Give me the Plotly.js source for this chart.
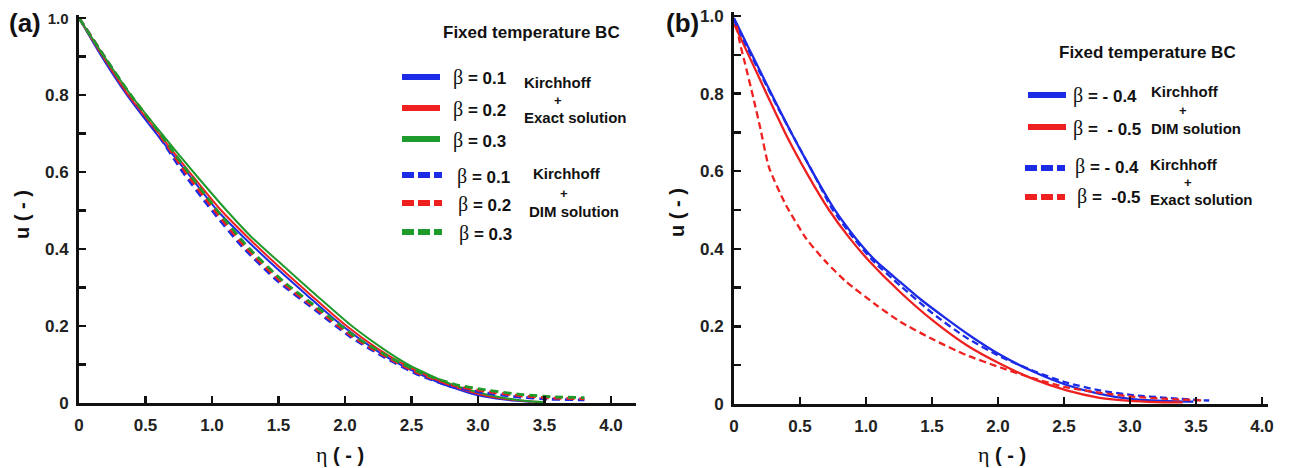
<!DOCTYPE html>
<html>
<head>
<meta charset="utf-8">
<script src="https://cdn.plot.ly/plotly-3.0.1.min.js"></script>
<style>html,body{margin:0;padding:0;background:#fff;}#chart{width:1290px;height:468px;}</style>
</head>
<body>
<div id="chart"></div>
<script>
// ---------------- Panel (a) data: Kirchhoff + Exact solution (solid) ----------------
const etaA_exact_b01 = [0, 0.17, 0.36, 0.58, 0.81, 1.04, 1.24, 1.47, 1.72, 1.97, 2.22, 2.43, 2.73, 3.0, 3.2, 3.4];
const uA_exact_b01   = [1, 0.9, 0.8, 0.7, 0.6, 0.5, 0.43, 0.355, 0.278, 0.203, 0.14, 0.097, 0.05, 0.02, 0.009, 0.003];
const etaA_exact_b02 = [0, 0.18, 0.37, 0.6, 0.83, 1.07, 1.27, 1.5, 1.75, 2.0, 2.25, 2.46, 2.76, 3.02, 3.2, 3.4, 3.5];
const uA_exact_b02   = [1, 0.9, 0.8, 0.7, 0.6, 0.5, 0.43, 0.355, 0.278, 0.203, 0.14, 0.097, 0.05, 0.022, 0.011, 0.004, 0.002];
const etaA_exact_b03 = [0, 0.19, 0.39, 0.62, 0.86, 1.11, 1.3, 1.54, 1.79, 2.04, 2.29, 2.49, 2.79, 3.04, 3.2, 3.37, 3.5];
const uA_exact_b03   = [1, 0.9, 0.8, 0.7, 0.6, 0.5, 0.43, 0.355, 0.278, 0.203, 0.14, 0.097, 0.05, 0.024, 0.013, 0.005, 0.002];
// ---------------- Panel (a) data: Kirchhoff + DIM solution (dashed) ----------------
const etaA_dim_b01 = [0, 0.19, 0.38, 0.59, 0.78, 1.0, 1.23, 1.5, 1.79, 2.04, 2.29, 2.54, 2.79, 3.04, 3.29, 3.54, 3.8];
const uA_dim_b01   = [1, 0.9, 0.8, 0.7, 0.6, 0.5, 0.405, 0.315, 0.238, 0.172, 0.12, 0.075, 0.044, 0.027, 0.016, 0.010, 0.008];
const etaA_dim_b02 = [0, 0.19, 0.38, 0.6, 0.8, 1.02, 1.25, 1.52, 1.81, 2.06, 2.31, 2.56, 2.81, 3.06, 3.31, 3.56, 3.8];
const uA_dim_b02   = [1, 0.9, 0.8, 0.7, 0.6, 0.5, 0.405, 0.315, 0.238, 0.172, 0.12, 0.076, 0.046, 0.03, 0.019, 0.013, 0.011];
const etaA_dim_b03 = [0, 0.19, 0.39, 0.61, 0.82, 1.04, 1.27, 1.54, 1.83, 2.08, 2.33, 2.58, 2.83, 3.08, 3.33, 3.58, 3.8];
const uA_dim_b03   = [1, 0.9, 0.8, 0.7, 0.6, 0.5, 0.405, 0.315, 0.238, 0.172, 0.12, 0.077, 0.048, 0.033, 0.022, 0.016, 0.014];

// ---------------- Panel (b) data: Kirchhoff + DIM solution (solid) ----------------
const etaB_dim_m04 = [0, 0.11, 0.22, 0.33, 0.44, 0.6, 0.76, 0.92, 1.07, 1.26, 1.42, 1.6, 1.78, 2.02, 2.27, 2.52, 2.77, 3.0, 3.25, 3.48];
const uB_dim_m04   = [0.995, 0.918, 0.843, 0.768, 0.695, 0.595, 0.502, 0.428, 0.37, 0.314, 0.268, 0.222, 0.178, 0.126, 0.083, 0.049, 0.026, 0.013, 0.008, 0.006];
const etaB_dim_m05 = [0, 0.13, 0.26, 0.40, 0.56, 0.72, 0.87, 1.02, 1.26, 1.51, 1.76, 2.02, 2.27, 2.52, 2.77, 3.0, 3.2, 3.4];
const uB_dim_m05   = [0.98, 0.885, 0.79, 0.69, 0.59, 0.5, 0.43, 0.37, 0.288, 0.214, 0.152, 0.103, 0.064, 0.035, 0.016, 0.008, 0.005, 0.004];
// ---------------- Panel (b) data: Kirchhoff + Exact solution (dashed) ----------------
const etaB_exact_m04 = [0, 0.11, 0.22, 0.33, 0.44, 0.6, 0.74, 0.9, 1.05, 1.26, 1.51, 1.76, 2.02, 2.27, 2.52, 2.77, 3.02, 3.28, 3.53, 3.6];
const uB_exact_m04   = [0.99, 0.912, 0.838, 0.765, 0.695, 0.595, 0.505, 0.43, 0.37, 0.305, 0.232, 0.171, 0.122, 0.085, 0.055, 0.035, 0.023, 0.016, 0.01, 0.009];
const etaB_exact_m05 = [0.02, 0.045, 0.083, 0.146, 0.2, 0.265, 0.39, 0.55, 0.7, 0.85, 1.09, 1.26, 1.51, 1.76, 2.02, 2.27, 2.52, 2.77, 3.02, 3.28, 3.55];
const uB_exact_m05   = [0.975, 0.93, 0.878, 0.79, 0.71, 0.61, 0.515, 0.425, 0.365, 0.315, 0.252, 0.212, 0.166, 0.126, 0.094, 0.066, 0.043, 0.029, 0.019, 0.013, 0.009];

// ---------------- Tick labels ----------------
const xTickVals = [0, 0.5, 1.0, 1.5, 2.0, 2.5, 3.0, 3.5, 4.0];
const xTickText = ['0', '0.5', '1.0', '1.5', '2.0', '2.5', '3.0', '3.5', '4.0'];
const yTickVals = [0, 0.1, 0.2, 0.3, 0.4, 0.5, 0.6, 0.7, 0.8, 0.9, 1.0];
const yTickTextA = ['0', '', '0.2', '', '0.4', '', '0.6', '', '0.8', '', '<span style="font-size:15px">1.0</span>'];
const yTickTextB = ['0', '', '0.2', '', '0.4', '', '0.6', '', '0.8', '', '1.0'];

// ---------------- Styling ----------------
const W = 1290, H = 468;
const BLUE = '#1b2be6', RED = '#ee2020', GREEN = '#1f9a2c';
const SANS = 'Liberation Sans, Arial, sans-serif';
const BETA = '<span style="font-family:Liberation Serif;font-weight:normal;font-size:20px">β</span>';
const X = p => p / W;
const Y = p => 1 - p / H;

function solid(x, y, color, name, xa, ya, w) {
  return {x: x, y: y, type: 'scatter', mode: 'lines', name: name, xaxis: xa, yaxis: ya,
          line: {color: color, width: w || 2, shape: 'spline', smoothing: 0.6}, hoverinfo: 'skip'};
}
function dashed(x, y, color, name, xa, ya, w, dash) {
  return {x: x, y: y, type: 'scatter', mode: 'lines', name: name, xaxis: xa, yaxis: ya,
          line: {color: color, width: w || 2.8, dash: dash || '8px,5px', shape: 'spline', smoothing: 0.6}, hoverinfo: 'skip'};
}

const traces = [
  solid(etaA_exact_b01, uA_exact_b01, BLUE, 'β = 0.1 Kirchhoff + Exact solution', 'x', 'y'),
  solid(etaA_exact_b02, uA_exact_b02, RED, 'β = 0.2 Kirchhoff + Exact solution', 'x', 'y'),
  solid(etaA_exact_b03, uA_exact_b03, GREEN, 'β = 0.3 Kirchhoff + Exact solution', 'x', 'y'),
  dashed(etaA_dim_b01, uA_dim_b01, BLUE, 'β = 0.1 Kirchhoff + DIM solution', 'x', 'y'),
  dashed(etaA_dim_b02, uA_dim_b02, RED, 'β = 0.2 Kirchhoff + DIM solution', 'x', 'y'),
  dashed(etaA_dim_b03, uA_dim_b03, GREEN, 'β = 0.3 Kirchhoff + DIM solution', 'x', 'y'),
  solid(etaB_dim_m04, uB_dim_m04, BLUE, 'β = -0.4 Kirchhoff + DIM solution', 'x2', 'y2', 2.3),
  solid(etaB_dim_m05, uB_dim_m05, RED, 'β = -0.5 Kirchhoff + DIM solution', 'x2', 'y2', 2.3),
  dashed(etaB_exact_m04, uB_exact_m04, BLUE, 'β = -0.4 Kirchhoff + Exact solution', 'x2', 'y2', 2.3, '7px,4px'),
  dashed(etaB_exact_m05, uB_exact_m05, RED, 'β = -0.5 Kirchhoff + Exact solution', 'x2', 'y2', 2.3, '7px,4px')
];

const tickFont = {family: SANS, size: 17, color: '#222', weight: 'bold'};
function xaxisDef(domain, range, anchor) {
  return {domain: domain, range: range, anchor: anchor, showline: true, linewidth: 3, linecolor: '#111',
          ticks: 'inside', ticklen: 7, tickwidth: 2.5, tickcolor: '#111', tickvals: xTickVals, ticktext: xTickText,
          tickfont: tickFont, showgrid: false, zeroline: false, ticklabelstandoff: 5, fixedrange: true};
}
function yaxisDef(domain, range, anchor, text) {
  return {domain: domain, range: range, anchor: anchor, showline: true, linewidth: 3, linecolor: '#111',
          ticks: 'inside', ticklen: 7, tickwidth: 2.5, tickcolor: '#111', tickvals: yTickVals, ticktext: text,
          tickfont: tickFont, showgrid: false, zeroline: false, ticklabelstandoff: 4, fixedrange: true};
}

// ---------------- Legends (drawn as shapes + text) ----------------
const shapes = [];
const annotations = [];
function legLine(x0, x1, yp, color, isDash) {
  shapes.push({type: 'line', xref: 'paper', yref: 'paper', x0: X(x0), x1: X(x1), y0: Y(yp), y1: Y(yp),
               line: {color: color, width: 6, dash: isDash ? '12px,4px' : 'solid'}});
}
function txt(x, yp, text, size, anchor, opts) {
  annotations.push(Object.assign({xref: 'paper', yref: 'paper', x: X(x), y: Y(yp), text: text, showarrow: false,
    xanchor: anchor || 'left', yanchor: 'middle', font: {family: SANS, size: size, color: '#111', weight: 'bold'}}, opts || {}));
}
// panel (a) legend
txt(531, 33, 'Fixed temperature BC', 17, 'center');
const legA = [['β = 0.1', BLUE], ['β = 0.2', RED], ['β = 0.3', GREEN]];
const legAsolidY = [77, 108, 139], legAdashY = [175, 203, 232];
legA.forEach((d, i) => {
  legLine(402, 440, legAsolidY[i], d[1], false);
  txt(451, legAsolidY[i] + 1, BETA + ' ' + d[0].slice(2), 17);
  legLine(402, 442, legAdashY[i], d[1], true);
  txt(455 + i, legAdashY[i] + 1, BETA + ' ' + d[0].slice(2), 17);
});
txt(522, 82, 'Kirchhoff', 15);
txt(558, 100, '+', 13, 'center');
txt(522, 117, 'Exact solution', 15);
txt(531, 173, 'Kirchhoff', 15);
txt(564, 193, '+', 13, 'center');
txt(527, 212, 'DIM solution', 15);
// panel (b) legend
txt(1147, 52, 'Fixed temperature BC', 17, 'center');
legLine(1028, 1066, 95, BLUE, false);
legLine(1028, 1066, 127, RED, false);
txt(1071, 96, BETA + ' = - 0.4', 17);
txt(1071, 128, BETA + ' =  - 0.5', 17);
txt(1149, 92, 'Kirchhoff', 15);
txt(1183, 110, '+', 13, 'center');
txt(1149, 128, 'DIM solution', 15);
legLine(1025, 1065, 168, BLUE, true);
legLine(1025, 1065, 197, RED, true);
txt(1073, 166, BETA + ' = - 0.4', 17);
txt(1075, 196, BETA + ' =  -0.5', 17);
txt(1148, 164, 'Kirchhoff', 15);
txt(1188, 183, '+', 13, 'center');
txt(1148, 199, 'Exact solution', 15);

// axis titles and panel labels
const ETA = '<span style="font-family:Liberation Serif;font-weight:normal;font-size:22px">η</span>';
txt(22, 215, 'u ( - )', 20, 'center', {textangle: -90});
txt(677, 213, 'u ( - )', 20, 'center', {textangle: -90});
txt(340, 454, ETA + ' ( - )', 20, 'center');
txt(1002, 454, ETA + ' ( - )', 20, 'center');
txt(25, 23, '(a)', 26, 'center');
txt(682, 23, '(b)', 26, 'center');

const layout = {
  width: W, height: H, margin: {l: 0, r: 0, t: 0, b: 0},
  paper_bgcolor: '#ffffff', plot_bgcolor: 'rgba(0,0,0,0)', showlegend: false,
  font: {family: SANS, color: '#111'},
  xaxis: xaxisDef([79 / W, 636 / W], [0, 557 / 133], 'y'),
  yaxis: yaxisDef([65 / H, 453 / H], [0, 388 / 385], 'x', yTickTextA),
  xaxis2: xaxisDef([734 / W, 1268 / W], [0, 534 / 132], 'y2'),
  yaxis2: yaxisDef([64 / H, 456 / H], [0, 392 / 388], 'x2', yTickTextB),
  shapes: shapes, annotations: annotations
};

Plotly.newPlot('chart', traces, layout, {staticPlot: true, displayModeBar: false});
</script>
</body>
</html>
